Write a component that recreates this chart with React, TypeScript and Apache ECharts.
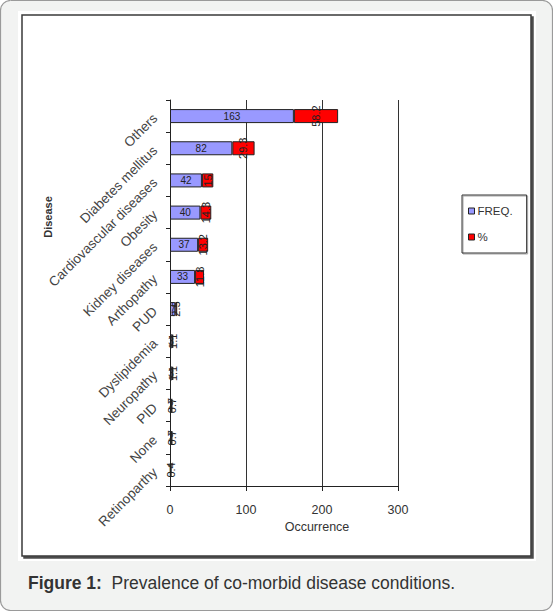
import * as echarts from "echarts";
import { useEffect, useRef } from "react";

const categories = [
	"Others",
	"Diabetes mellitus",
	"Cardiovascular diseases",
	"Obesity",
	"Kidney diseases",
	"Arthopathy",
	"PUD",
	"Dyslipidemia",
	"Neuropathy",
	"PID",
	"None",
	"Retinoparthy",
];

// FREQ. and % for each condition
const freq = [163, 82, 42, 40, 37, 33, 7, 3, 3, 2, 2, 1];
const pct = [58.2, 29.3, 15, 14.3, 13.2, 11.8, 2.5, 1.1, 1.1, 0.7, 0.7, 0.4];

const xTicks = { min: 0, max: 300, interval: 100 };

const FONT = "Liberation Sans, Arial, sans-serif";

export default function App() {
	const chartRef = useRef<HTMLDivElement>(null);

	useEffect(() => {
		document.body.style.margin = "0";
		if (!chartRef.current) return;
		const chart = echarts.init(chartRef.current, null, { renderer: "svg" });
		chart.setOption({
			animation: false,
			textStyle: { fontFamily: FONT },
			graphic: [
				{
					// card background
					type: "rect",
					z: -10,
					shape: { x: 0.5, y: 0.5, width: 552, height: 610, r: 10 },
					style: { fill: "#f2f3f2", stroke: "#9a9a9a", lineWidth: 1.2 },
				},
				{
					type: "rect",
					z: -9,
					shape: { x: 18, y: 11, width: 518, height: 550 },
					style: { fill: "#ffffff" },
				},
				{
					// chart frame with shadow
					type: "rect",
					z: -8,
					shape: { x: 22, y: 15, width: 509, height: 541 },
					style: {
						fill: "#ffffff",
						stroke: "#3a3a3a",
						lineWidth: 1.5,
						shadowColor: "rgba(0,0,0,0.7)",
						shadowOffsetX: 2,
						shadowOffsetY: 2,
						shadowBlur: 1,
					},
				},
				{
					type: "text",
					x: 48,
					y: 217,
					rotation: Math.PI / 2,
					style: {
						text: "Disease",
						fill: "#333",
						font: `bold 11px ${FONT}`,
						align: "center",
						verticalAlign: "middle",
					},
				},
			],
			title: {
				left: 28,
				top: 574,
				padding: 0,
				text: "{b|Figure 1:}  Prevalence of co-morbid disease conditions.",
				textStyle: {
					fontFamily: FONT,
					fontSize: 17.5,
					fontWeight: "normal",
					color: "#333",
					rich: {
						b: { fontFamily: FONT, fontSize: 17.5, fontWeight: "bold", color: "#333" },
					},
				},
			},
			legend: {
				orient: "vertical",
				left: 462,
				top: 195,
				padding: [10, 14, 10, 6],
				itemGap: 14,
				itemWidth: 6,
				itemHeight: 6,
				icon: "rect",
				borderColor: "#333",
				borderWidth: 1,
				shadowColor: "rgba(0,0,0,0.35)",
				shadowOffsetX: 1,
				shadowOffsetY: 1,
				shadowBlur: 1,
				itemStyle: { borderColor: "#222", borderWidth: 1 },
				textStyle: { fontFamily: FONT, fontSize: 11.5, color: "#333", padding: [0, 0, 0, -2] },
				data: ["FREQ.", "%"],
			},
			grid: { left: 170, right: 155, top: 100, bottom: 125 },
			xAxis: {
				type: "value",
				...xTicks,
				name: "Occurrence",
				nameLocation: "middle",
				nameGap: 27,
				nameTextStyle: {
					fontFamily: FONT,
					fontSize: 12.5,
					color: "#333",
					padding: [0, 0, 0, 66],
				},
				axisLine: { show: true, lineStyle: { color: "#222", width: 1 } },
				axisTick: { show: true, length: 5, lineStyle: { color: "#222" } },
				axisLabel: { fontFamily: FONT, fontSize: 12.5, color: "#333", margin: 17 },
				splitLine: { show: true, lineStyle: { color: "#333", width: 1 } },
			},
			yAxis: {
				type: "category",
				inverse: true,
				data: categories,
				axisLine: { show: true, lineStyle: { color: "#222", width: 1 } },
				axisTick: { show: true, length: 4, lineStyle: { color: "#222" } },
				axisLabel: {
					rotate: 45,
					fontFamily: FONT,
					fontSize: 13.5,
					color: "#444",
					margin: 15,
				},
			},
			series: [
				{
					name: "FREQ.",
					type: "bar",
					stack: "d",
					barWidth: 14,
					data: freq,
					itemStyle: { color: "#9999ff", borderColor: "#222", borderWidth: 1 },
					label: {
						show: true,
						position: "inside",
						fontFamily: FONT,
						fontSize: 10,
						color: "#222",
					},
				},
				{
					name: "%",
					type: "bar",
					stack: "d",
					barWidth: 14,
					data: pct,
					itemStyle: { color: "#ff0000", borderColor: "#222", borderWidth: 1 },
					label: {
						show: true,
						position: "inside",
						rotate: 90,
						fontFamily: FONT,
						fontSize: 11,
						color: "#222",
					},
				},
			],
		});

		return () => {
			chart.dispose();
		};
	}, []);

	return <div ref={chartRef} style={{ width: 553, height: 611 }} />;
}
